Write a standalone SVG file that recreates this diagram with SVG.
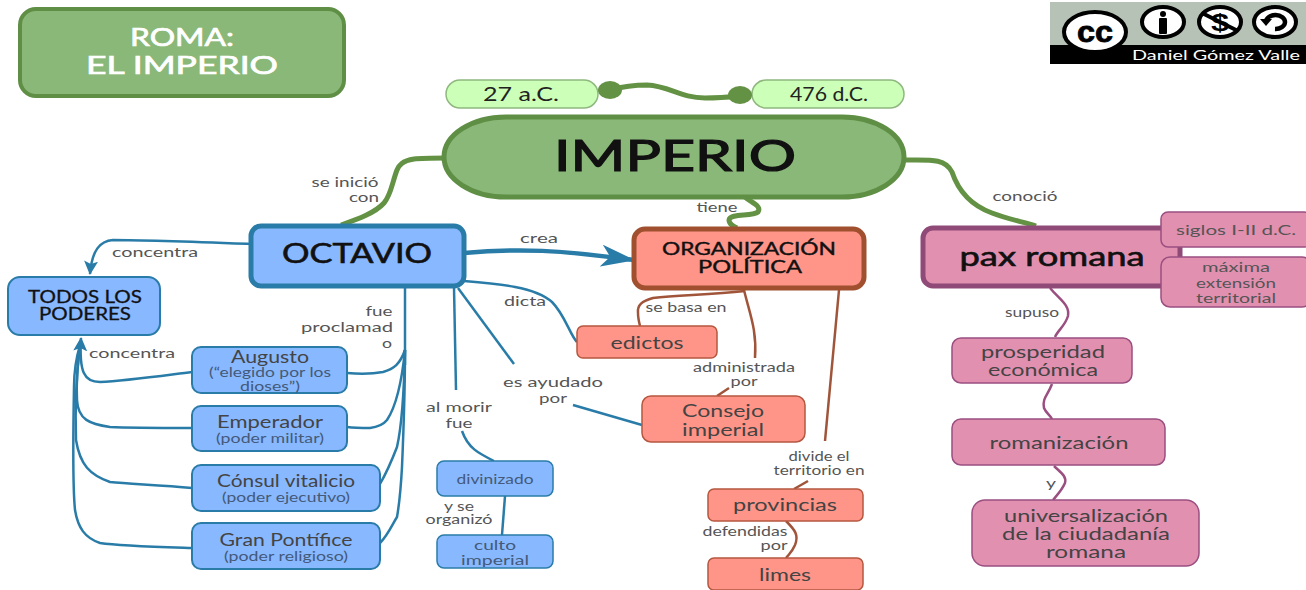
<svg xmlns="http://www.w3.org/2000/svg" width="1306" height="590" viewBox="0 0 1306 590">
<style>
text{font-family:"Lato","Noto Sans","Liberation Sans",sans-serif;text-anchor:middle}
.n{stroke-linejoin:round}
.g{fill:#8ab878;stroke:#5f8f45}
.b{fill:#88b8ff;stroke:#2a7ca8;stroke-width:2}
.r{fill:#ff9488;stroke:#b5573f;stroke-width:1.5}
.p{fill:#e290b0;stroke:#9a4f80;stroke-width:1.5}
.l{font-size:13.5px;fill:#555}
.t{font-size:18px;fill:#444}
.s{font-size:13px;fill:#445a78}
.h{fill:#111;stroke:#111;stroke-width:.6}
.cg{fill:none;stroke:#649244;stroke-width:5}
.cb{fill:none;stroke:#2a7ca8;stroke-width:2.5}
.cr{fill:none;stroke:#a0553a;stroke-width:2.5}
.cp{fill:none;stroke:#9a4f80;stroke-width:2.5}
.ic{fill:#fff;stroke:#000;stroke-width:4}
</style>
<defs>
<marker id="ah" viewBox="0 0 14 14" refX="13" refY="7" markerWidth="14" markerHeight="14" markerUnits="userSpaceOnUse" orient="auto"><path d="M0 0L14 7L0 14L3 7Z" fill="#2a7ca8"/></marker>
<marker id="ahL" viewBox="0 0 34 22" refX="33" refY="11" markerWidth="34" markerHeight="22" markerUnits="userSpaceOnUse" orient="auto"><path d="M0 0L34 11L0 22L9 11Z" fill="#2a7ca8"/></marker>
</defs>
<g id="connectors">
<path class="cg" d="M610 90C625 86 635 85 647 85C670 86 680 98 705 98C720 98 730 97 740 96"/>
<path class="cg" d="M446 158C430 158 422 158 414 159C402 161 399 165 397 170C392 183 391 195 384 203C375 213 358 219 341 225"/>
<path class="cg" d="M745 197C752 203 762 206 758 212C752 217 730 213 729 220C729 224 733 226 737 228"/>
<path class="cg" d="M904 160C930 160 945 158 952 172C958 190 970 205 992 213C1010 220 1025 222 1036 226"/>
<path class="cb" d="M251 244C200 242 150 240 113 240C100 241 92 250 90 274" marker-end="url(#ah)"/>
<path class="cb" d="M192 372C160 376 125 381 100 382C84 382 79 372 81 338" marker-end="url(#ah)"/>
<path class="cb" d="M192 428C160 428 130 428 110 427C90 424 78 420 77 400C76 380 78 360 80 345"/>
<path class="cb" d="M192 488C160 485 130 484 110 482C90 475 80 465 76 440C75 410 77 370 80 345"/>
<path class="cb" d="M192 548C160 547 120 546 100 543C85 538 78 528 75 510C73 490 73 440 74 387C74 370 77 355 80 345"/>
<path class="cb" d="M405 288L405 365"/>
<path class="cb" d="M347 373C360 374 372 374 383 372C394 369 400 364 405 350"/>
<path class="cb" d="M347 427C355 428 362 428 370 428C378 427 383 425 387 420C397 405 402 380 405 350"/>
<path class="cb" d="M380 484C388 470 392 460 397 447C402 425 404 395 405 350"/>
<path class="cb" d="M380 543C388 535 392 525 397 517C400 500 401 485 402 467C404 420 405 385 405 350"/>
<path d="M464 253C520 248 560 250 634 260" fill="none" stroke="#2a7ca8" stroke-width="4.500" marker-end="url(#ahL)"/>
<path class="cb" d="M464 281C500 284 535 287 552 302C565 315 570 335 577 342"/>
<path class="cb" d="M458 288L514 364"/>
<path class="cb" d="M454 287L456 390"/>
<path class="cb" d="M573 405L642 425"/>
<path class="cb" d="M462 431C468 448 478 453 494 461"/>
<path class="cb" d="M505 496L502 535"/>
<path class="cr" d="M745 291C710 295 680 295 653 298C642 301 637 305 638 313C638 318 639 322 640 326"/>
<path class="cr" d="M744 290C750 315 757 330 755 358"/>
<path class="cr" d="M729 388L717 396"/>
<path class="cr" d="M839 290L825 441"/>
<path class="cr" d="M808 481L794 489"/>
<path class="cr" d="M786 521C795 530 799 535 795 545C792 552 790 553 786 558"/>
<path class="cp" d="M1050 288C1060 300 1070 305 1068 316C1065 326 1058 330 1055 337"/>
<path class="cp" d="M1052 384C1048 395 1042 398 1044 408C1046 413 1050 415 1052 419"/>
<path class="cp" d="M1054 466C1060 472 1067 476 1065 483C1062 490 1058 494 1053 500"/>
</g>
<g id="node-roma"><rect class="n g" x="20" y="9" width="324" height="87" rx="16" stroke-width="4"/>
<text x="182" y="46" font-size="25" fill="#fff" stroke="#fff" stroke-width=".7" textLength="104" lengthAdjust="spacingAndGlyphs">ROMA:</text>
<text x="182" y="74" font-size="25" fill="#fff" stroke="#fff" stroke-width=".7" textLength="192" lengthAdjust="spacingAndGlyphs">EL IMPERIO</text></g>
<g id="node-27"><rect x="446" y="80" width="152" height="28" rx="14" fill="#ccffb8" stroke="#8fb87f" stroke-width="1.5"/>
<text x="521" y="101" font-size="20" fill="#222" textLength="76" lengthAdjust="spacingAndGlyphs">27 a.C.</text>
<ellipse cx="610" cy="90" rx="12" ry="9" fill="#649244"/></g>
<g id="node-476"><rect x="752" y="80" width="152" height="28" rx="14" fill="#ccffb8" stroke="#8fb87f" stroke-width="1.5"/>
<text x="829" y="101" font-size="20" fill="#222" textLength="78" lengthAdjust="spacingAndGlyphs">476 d.C.</text>
<ellipse cx="740" cy="95" rx="12" ry="9" fill="#649244"/></g>
<g id="node-imperio"><rect class="n g" x="444" y="117" width="460" height="80" rx="62" ry="40" stroke-width="5"/>
<text class="h" x="675" y="171" font-size="42" textLength="242" lengthAdjust="spacingAndGlyphs" style="stroke-width:1.2">IMPERIO</text></g>
<g id="node-octavio"><rect class="n" x="251" y="226" width="213" height="60" rx="10" fill="#88b8ff" stroke="#2a7ca8" stroke-width="5"/>
<text class="h" x="357" y="263" font-size="27" textLength="150" lengthAdjust="spacingAndGlyphs">OCTAVIO</text></g>
<g id="node-todos"><rect class="n b" x="8" y="277" width="152" height="58" rx="12"/>
<text class="h" x="85" y="303" font-size="17" textLength="114" lengthAdjust="spacingAndGlyphs" style="stroke-width:.3">TODOS LOS</text>
<text class="h" x="85" y="320" font-size="17" textLength="92" lengthAdjust="spacingAndGlyphs" style="stroke-width:.3">PODERES</text></g>
<g id="node-augusto"><rect class="n b" x="192" y="347" width="155" height="46" rx="9"/>
<text class="t" x="270" y="363" textLength="78" lengthAdjust="spacingAndGlyphs">Augusto</text>
<text class="s" x="270" y="377" textLength="122" lengthAdjust="spacingAndGlyphs">(“elegido por los</text>
<text class="s" x="270" y="391" textLength="60" lengthAdjust="spacingAndGlyphs">dioses”)</text></g>
<g id="node-emperador"><rect class="n b" x="192" y="406" width="155" height="45" rx="9"/>
<text class="t" x="270" y="428" textLength="106" lengthAdjust="spacingAndGlyphs">Emperador</text>
<text class="s" x="270" y="443" textLength="108" lengthAdjust="spacingAndGlyphs">(poder militar)</text></g>
<g id="node-consul"><rect class="n b" x="192" y="465" width="188" height="46" rx="9"/>
<text class="t" x="286" y="487" textLength="138" lengthAdjust="spacingAndGlyphs">Cónsul vitalicio</text>
<text class="s" x="286" y="502" textLength="128" lengthAdjust="spacingAndGlyphs">(poder ejecutivo)</text></g>
<g id="node-gran"><rect class="n b" x="192" y="523" width="188" height="46" rx="9"/>
<text class="t" x="286" y="546" textLength="133" lengthAdjust="spacingAndGlyphs">Gran Pontífice</text>
<text class="s" x="286" y="561" textLength="124" lengthAdjust="spacingAndGlyphs">(poder religioso)</text></g>
<g id="node-divinizado"><rect class="n b" x="437" y="461" width="116" height="35" rx="7" style="stroke-width:1.5"/>
<text class="s" x="495" y="484" textLength="77" lengthAdjust="spacingAndGlyphs">divinizado</text></g>
<g id="node-culto"><rect class="n b" x="437" y="535" width="116" height="33" rx="7" style="stroke-width:1.5"/>
<text class="s" x="495" y="550" textLength="42" lengthAdjust="spacingAndGlyphs">culto</text>
<text class="s" x="495" y="565" textLength="68" lengthAdjust="spacingAndGlyphs">imperial</text></g>
<g id="node-org"><rect class="n" x="634" y="229" width="230" height="59" rx="11" fill="#ff9488" stroke="#a0502e" stroke-width="5"/>
<text class="h" x="749" y="255" font-size="17.500" textLength="174" lengthAdjust="spacingAndGlyphs" style="stroke-width:.4">ORGANIZACIÓN</text>
<text class="h" x="750" y="273" font-size="17.500" textLength="104" lengthAdjust="spacingAndGlyphs" style="stroke-width:.4">POLÍTICA</text></g>
<g id="node-edictos"><rect class="n r" x="577" y="326" width="140" height="32" rx="6"/>
<text class="t" x="647" y="349" textLength="73" lengthAdjust="spacingAndGlyphs">edictos</text></g>
<g id="node-consejo"><rect class="n r" x="642" y="396" width="163" height="46" rx="9"/>
<text class="t" x="723" y="417" textLength="82" lengthAdjust="spacingAndGlyphs">Consejo</text>
<text class="t" x="723" y="436" textLength="82" lengthAdjust="spacingAndGlyphs">imperial</text></g>
<g id="node-provincias"><rect class="n r" x="708" y="489" width="155" height="32" rx="6"/>
<text class="t" x="785" y="511" textLength="104" lengthAdjust="spacingAndGlyphs">provincias</text></g>
<g id="node-limes"><rect class="n r" x="708" y="558" width="155" height="32" rx="6"/>
<text class="t" x="785" y="581" textLength="52" lengthAdjust="spacingAndGlyphs">limes</text></g>
<g id="node-pax"><rect class="n" x="923" y="228" width="257" height="58" rx="10" fill="#e290b0" stroke="#8f4a78" stroke-width="5"/>
<text class="h" x="1052" y="266" font-size="26" textLength="185" lengthAdjust="spacingAndGlyphs">pax romana</text></g>
<g id="node-siglos"><rect class="n p" x="1161" y="212" width="150" height="35" rx="7"/>
<text class="l" x="1236" y="235" textLength="120" lengthAdjust="spacingAndGlyphs">siglos I-II d.C.</text></g>
<g id="node-maxima"><rect class="n p" x="1161" y="257" width="150" height="50" rx="9"/>
<text class="l" x="1236" y="272" textLength="68" lengthAdjust="spacingAndGlyphs">máxima</text>
<text class="l" x="1236" y="288" textLength="80" lengthAdjust="spacingAndGlyphs">extensión</text>
<text class="l" x="1236" y="303" textLength="80" lengthAdjust="spacingAndGlyphs">territorial</text></g>
<g id="node-prosperidad"><rect class="n p" x="952" y="338" width="180" height="45" rx="9"/>
<text class="t" x="1043" y="358" textLength="124" lengthAdjust="spacingAndGlyphs">prosperidad</text>
<text class="t" x="1043" y="376" textLength="110" lengthAdjust="spacingAndGlyphs">económica</text></g>
<g id="node-romanizacion"><rect class="n p" x="952" y="419" width="213" height="46" rx="9"/>
<text class="t" x="1059" y="449" textLength="139" lengthAdjust="spacingAndGlyphs">romanización</text></g>
<g id="node-univ"><rect class="n p" x="972" y="500" width="227" height="66" rx="13"/>
<text class="t" x="1086" y="522" textLength="164" lengthAdjust="spacingAndGlyphs">universalización</text>
<text class="t" x="1086" y="540" textLength="168" lengthAdjust="spacingAndGlyphs">de la ciudadanía</text>
<text class="t" x="1086" y="558" textLength="80" lengthAdjust="spacingAndGlyphs">romana</text></g>
<g id="labels">
<text class="l" x="345" y="187" textLength="67" lengthAdjust="spacingAndGlyphs">se inició</text>
<text class="l" x="364" y="202" textLength="30" lengthAdjust="spacingAndGlyphs">con</text>
<text class="l" x="717" y="212" textLength="41" lengthAdjust="spacingAndGlyphs">tiene</text>
<text class="l" x="1025" y="201" textLength="65" lengthAdjust="spacingAndGlyphs">conoció</text>
<text class="l" x="155" y="257" textLength="86" lengthAdjust="spacingAndGlyphs">concentra</text>
<text class="l" x="132" y="358" textLength="86" lengthAdjust="spacingAndGlyphs">concentra</text>
<text class="l" x="379" y="316" textLength="27" lengthAdjust="spacingAndGlyphs">fue</text>
<text class="l" x="347" y="332" textLength="92" lengthAdjust="spacingAndGlyphs">proclamad</text>
<text class="l" x="387" y="348" textLength="10" lengthAdjust="spacingAndGlyphs">o</text>
<text class="l" x="539" y="243" textLength="38" lengthAdjust="spacingAndGlyphs">crea</text>
<text class="l" x="525" y="306" textLength="42" lengthAdjust="spacingAndGlyphs">dicta</text>
<text class="l" x="686" y="312" textLength="81" lengthAdjust="spacingAndGlyphs">se basa en</text>
<text class="l" x="744" y="372" textLength="102" lengthAdjust="spacingAndGlyphs">administrada</text>
<text class="l" x="744" y="386" textLength="27" lengthAdjust="spacingAndGlyphs">por</text>
<text class="l" x="553" y="387" textLength="100" lengthAdjust="spacingAndGlyphs">es ayudado</text>
<text class="l" x="553" y="403" textLength="28" lengthAdjust="spacingAndGlyphs">por</text>
<text class="l" x="459" y="412" textLength="66" lengthAdjust="spacingAndGlyphs">al morir</text>
<text class="l" x="459" y="428" textLength="27" lengthAdjust="spacingAndGlyphs">fue</text>
<text class="l" x="459" y="511" textLength="30" lengthAdjust="spacingAndGlyphs">y se</text>
<text class="l" x="459" y="524" textLength="67" lengthAdjust="spacingAndGlyphs">organizó</text>
<text class="l" x="819" y="461" textLength="61" lengthAdjust="spacingAndGlyphs">divide el</text>
<text class="l" x="819" y="475" textLength="91" lengthAdjust="spacingAndGlyphs">territorio en</text>
<text class="l" x="745" y="536" textLength="85" lengthAdjust="spacingAndGlyphs">defendidas</text>
<text class="l" x="774" y="550" textLength="27" lengthAdjust="spacingAndGlyphs">por</text>
<text class="l" x="1032" y="317" textLength="54" lengthAdjust="spacingAndGlyphs">supuso</text>
<text class="l" x="1051" y="488" textLength="10" lengthAdjust="spacingAndGlyphs">y</text>
</g>
<g id="cc-badge">
<rect x="1050" y="2" width="256" height="62" fill="#b5c2b5"/>
<rect x="1050" y="45" width="256" height="19" fill="#000"/>
<ellipse class="ic" cx="1095" cy="32" rx="31" ry="20" stroke-width="5"/>
<text x="1095" y="42" font-size="30" fill="#000" font-weight="700" stroke="#000" stroke-width=".8" style="font-family:'Liberation Sans',sans-serif" textLength="36" lengthAdjust="spacingAndGlyphs">cc</text>
<ellipse class="ic" cx="1163" cy="22" rx="21" ry="15"/>
<circle cx="1163" cy="14" r="3" fill="#000"/><rect x="1159" y="18" width="8" height="16" rx="1" fill="#000"/>
<ellipse class="ic" cx="1220" cy="22" rx="21" ry="15"/>
<text x="1220" y="31" font-size="24" fill="#000" font-weight="700" style="font-family:'Liberation Sans',sans-serif" textLength="18" lengthAdjust="spacingAndGlyphs">$</text>
<path d="M1202 13L1238 31" stroke="#000" stroke-width="4"/>
<ellipse class="ic" cx="1275" cy="22" rx="21" ry="15"/>
<path d="M1266 22A9.500 7 0 1 1 1275 29" fill="none" stroke="#000" stroke-width="4.500"/>
<path d="M1260 19L1272 19L1266 26Z" fill="#000"/>
<text x="1216" y="60" font-size="14" fill="#fff" textLength="168" lengthAdjust="spacingAndGlyphs">Daniel Gómez Valle</text>
</g>
</svg>
